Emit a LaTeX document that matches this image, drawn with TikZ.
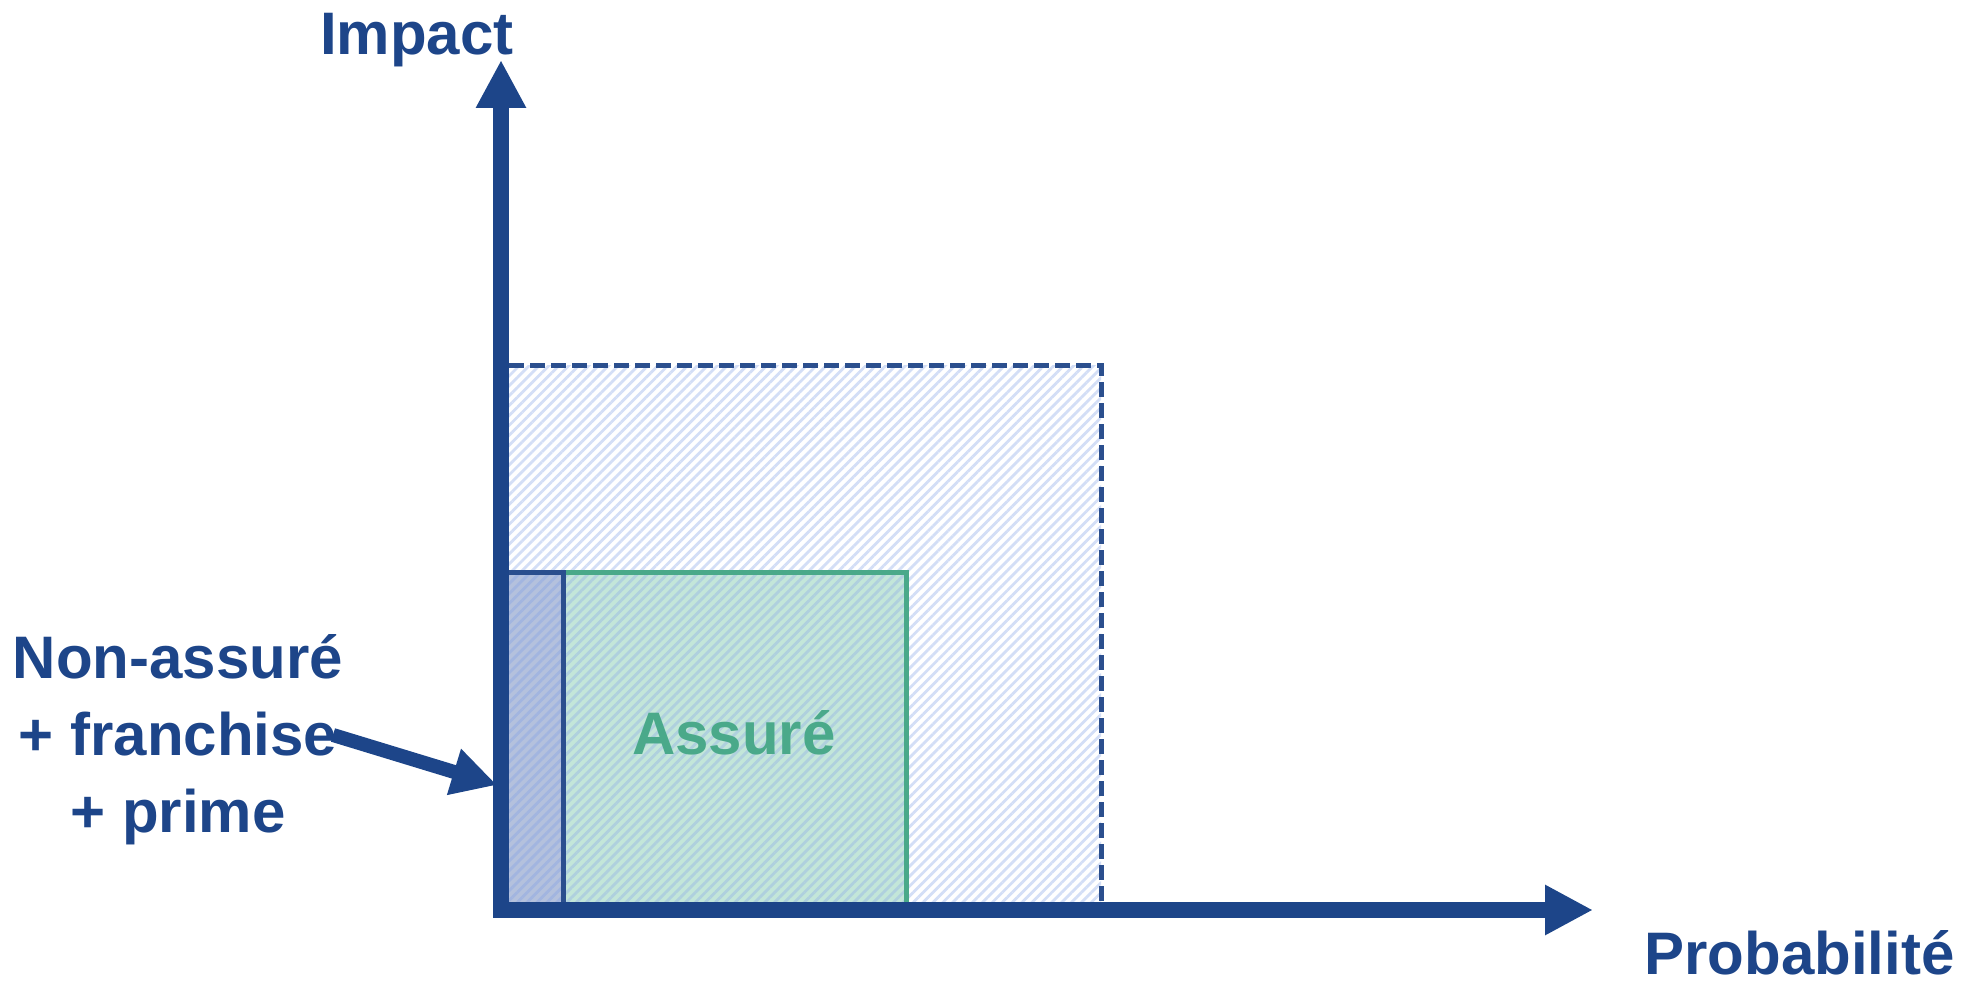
\documentclass[tikz,border=0pt]{standalone}
\usepackage{fontspec}
\setmainfont{Liberation Sans}
\usetikzlibrary{arrows.meta,patterns.meta}
\definecolor{axisblue}{HTML}{1D4589}
\definecolor{dashblue}{HTML}{2B4F8E}
\definecolor{hatchwhite}{HTML}{D3DEF6}
\definecolor{hatchgreen}{HTML}{AFD0DE}
\definecolor{hatchblue}{HTML}{A2B5E0}
\definecolor{uninsfill}{HTML}{B4C1DD}
\definecolor{insfill}{HTML}{C3E6D9}
\definecolor{insgreen}{HTML}{4AA98A}
\tikzset{
  lbl/.style={font=\fontsize{30}{38.5}\selectfont\bfseries, text=axisblue, inner sep=0pt},
  axisline/.style={draw=axisblue, line width=8pt, line join=miter,
    {Triangle[length=24pt,width=23.5pt]}-{Triangle[length=24pt,width=23.5pt]}},
  pointer/.style={draw=axisblue, line width=7pt, -{Triangle[length=22.5pt,width=22.5pt]}},
  hatched/.style={pattern={Lines[angle=45,distance=3.5pt,line width=1.4pt]}, pattern color=#1},
}
\begin{document}
\begin{tikzpicture}[x=0.5pt,y=-0.5pt]
\useasboundingbox (0,0) rectangle (1970,984);
% regions
\fill[hatched=hatchwhite] (509,365) rectangle (1101,903);
\fill[insfill] (563,572) rectangle (906,903);
\fill[hatched=hatchgreen] (563,572) rectangle (906,903);
\fill[uninsfill] (509,572) rectangle (563,903);
\fill[hatched=hatchblue] (509,572) rectangle (563,903);
\draw[insgreen, line width=2.5pt] (563,903) -- (563,572) -- (906,572) -- (906,903);
\draw[dashblue, line width=2.5pt] (509,572) -- (563,572) -- (563,903);
\draw[dashblue, line width=2.5pt, dash pattern=on 7.5pt off 3pt] (509,365) -- (1101,365) -- (1101,903);
% axes
\coordinate (ytip) at (501,60);
\coordinate (origin) at (501,910);
\coordinate (xtip) at (1593,910);
\draw[axisline] (ytip) -- (origin) -- (xtip);
% labels
\node[lbl, anchor=base] (impact) at (417,55) {Impact};
\node[lbl, anchor=base east, text depth=0pt] (proba) at (1955,974) {Probabilité};
\node[lbl, text=insgreen, anchor=base] (assure) at (734,754) {Assuré};
\node[lbl, align=center, anchor=base] (nonass) at (178,832) {Non-assuré\\+ franchise\\+ prime};
\coordinate (pstart) at (333,735);
\coordinate (pend) at (497,785);
\draw[pointer] (pstart) -- (pend);
\end{tikzpicture}
\end{document}
